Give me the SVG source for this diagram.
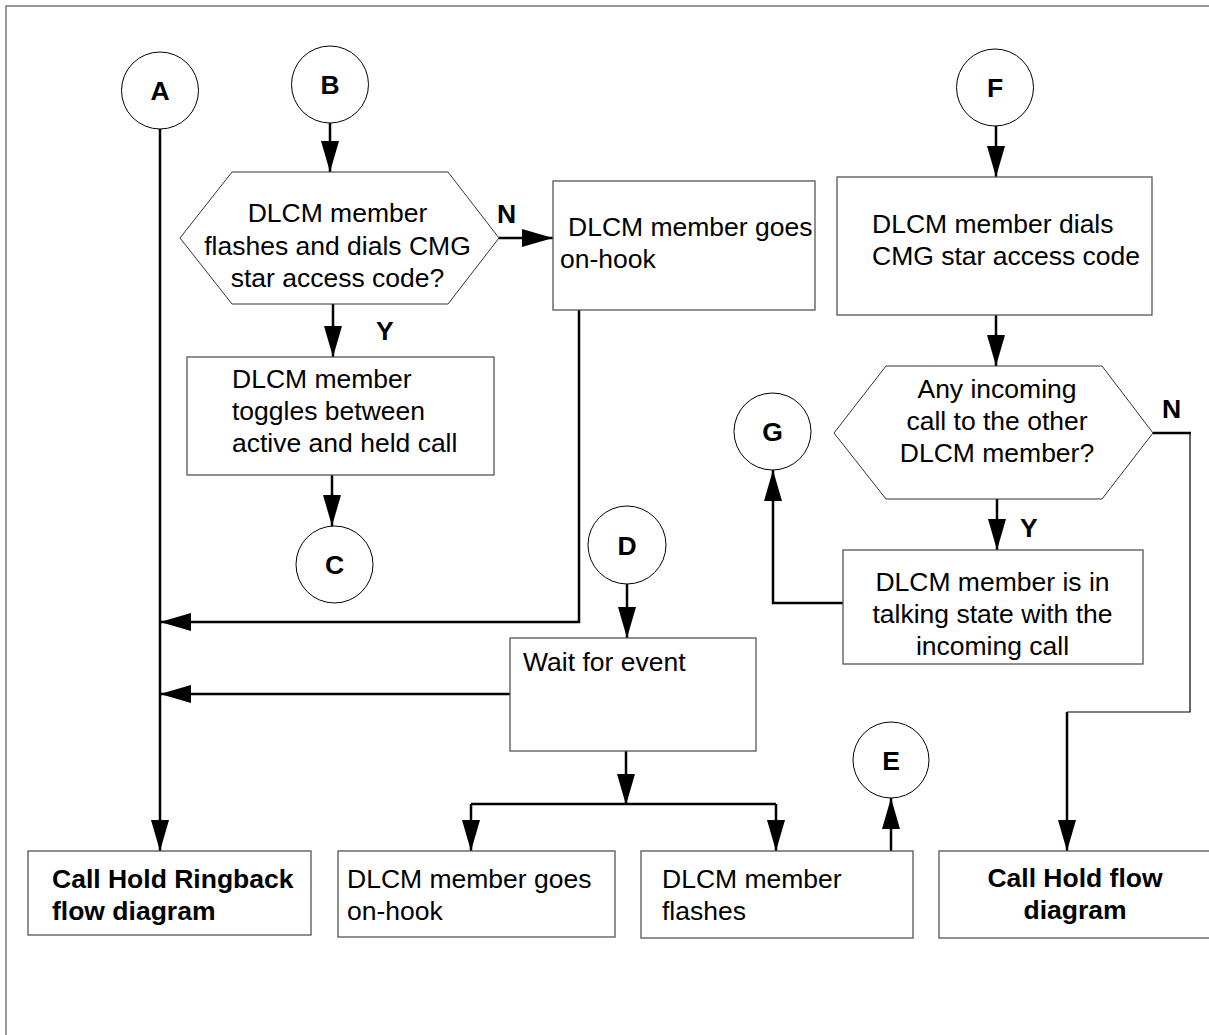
<svg xmlns="http://www.w3.org/2000/svg" width="1209" height="1035" viewBox="0 0 1209 1035">
<style>
text{font-family:"Liberation Sans",Arial,Helvetica,sans-serif;font-size:26.5px;fill:#000}
.b{font-weight:bold}
.c{text-anchor:middle}
.box{fill:#fff;stroke:#555;stroke-width:1.3}
.circ{fill:#fff;stroke:#000;stroke-width:1}
.hex{fill:#fff;stroke:#333;stroke-width:1}
.ln{fill:none;stroke:#000;stroke-width:2.5}
.arr{fill:none;stroke:#000;stroke-width:2.5;marker-end:url(#ah)}
.thin{fill:none;stroke:#000;stroke-width:1.2}
</style>
<defs>
<marker id="ah" markerUnits="userSpaceOnUse" markerWidth="31" markerHeight="18" refX="31" refY="9" orient="auto" viewBox="0 0 31 18">
<path d="M0,0 L31,9 L0,18 z" fill="#000"/>
</marker>
</defs>
<rect width="1209" height="1035" fill="#fff"/>
<path d="M6,1035 L6,6 L1209,6" fill="none" stroke="#777" stroke-width="1.5"/>

<g id="connectors">
<line class="arr" x1="330" y1="123" x2="330" y2="172"/>
<line class="arr" x1="499" y1="238" x2="553" y2="238"/>
<line class="arr" x1="333" y1="304" x2="333" y2="357"/>
<line class="arr" x1="332" y1="475" x2="332" y2="526"/>
<polyline class="arr" points="579,310 579,622 160,622"/>
<line class="arr" x1="160" y1="129" x2="160" y2="851"/>
<line class="arr" x1="510" y1="694" x2="160" y2="694"/>
<line class="arr" x1="627" y1="584" x2="627" y2="638"/>
<line class="arr" x1="626" y1="751" x2="626" y2="805"/>
<polyline class="ln" points="471,804 776,804"/>
<line class="arr" x1="471" y1="804" x2="471" y2="851"/>
<line class="arr" x1="776" y1="804" x2="776" y2="851"/>
<line class="arr" x1="891" y1="851" x2="891" y2="798"/>
<line class="arr" x1="996" y1="126" x2="996" y2="177"/>
<line class="arr" x1="996" y1="315" x2="996" y2="366"/>
<line class="arr" x1="997" y1="499" x2="997" y2="550"/>
<polyline class="arr" points="843,603 773,603 773,470"/>
<line class="ln" x1="1153" y1="433" x2="1191" y2="433"/>
<polyline class="thin" points="1190,433 1190,712 1067,712"/>
<line class="arr" x1="1067" y1="712" x2="1067" y2="851"/>
<text class="b" x="497" y="223">N</text>
<text class="b" x="376" y="340">Y</text>
<text class="b" x="1162" y="418">N</text>
<text class="b" x="1020" y="537">Y</text>
</g>

<g id="nodeA"><circle class="circ" cx="160" cy="90.5" r="38.5"/><text class="b c" x="160" y="100">A</text></g>
<g id="nodeB"><circle class="circ" cx="330" cy="84.5" r="38.5"/><text class="b c" x="330" y="94">B</text></g>
<g id="nodeC"><circle class="circ" cx="334.5" cy="564.5" r="38.5"/><text class="b c" x="334.5" y="574">C</text></g>
<g id="nodeD"><circle class="circ" cx="627" cy="545" r="39"/><text class="b c" x="627" y="554.5">D</text></g>
<g id="nodeE"><circle class="circ" cx="891" cy="760" r="38"/><text class="b c" x="891" y="769.5">E</text></g>
<g id="nodeF"><circle class="circ" cx="995" cy="87.5" r="38.5"/><text class="b c" x="995" y="97">F</text></g>
<g id="nodeG"><circle class="circ" cx="772.5" cy="431.5" r="38.5"/><text class="b c" x="772.5" y="441">G</text></g>

<g id="decision1">
<polygon class="hex" points="232,172 448,172 499,238 448,304 232,304 180,238"/>
<text class="c" x="337.5" y="222">DLCM member</text>
<text class="c" x="337.5" y="255">flashes and dials CMG</text>
<text class="c" x="337.5" y="287">star access code?</text>
</g>

<g id="onhook1">
<rect class="box" x="553" y="181" width="262" height="129"/>
<text x="568" y="236">DLCM member goes</text>
<text x="560" y="268">on-hook</text>
</g>

<g id="toggle">
<rect class="box" x="187" y="357" width="307" height="118"/>
<text x="232" y="388">DLCM member</text>
<text x="232" y="420">toggles between</text>
<text x="232" y="452">active and held call</text>
</g>

<g id="wait">
<rect class="box" x="510" y="638" width="246" height="113"/>
<text x="523" y="671">Wait for event</text>
</g>

<g id="ringback">
<rect class="box" x="28" y="851" width="283" height="84"/>
<text class="b" x="52" y="888">Call Hold Ringback</text>
<text class="b" x="52" y="920">flow diagram</text>
</g>

<g id="onhook2">
<rect class="box" x="338" y="851" width="277" height="86"/>
<text x="347" y="888">DLCM member goes</text>
<text x="347" y="920">on-hook</text>
</g>

<g id="flashes">
<rect class="box" x="641" y="851" width="272" height="87"/>
<text x="662" y="888">DLCM member</text>
<text x="662" y="920">flashes</text>
</g>

<g id="dials">
<rect class="box" x="837" y="177" width="315" height="138"/>
<text x="872" y="233">DLCM member dials</text>
<text x="872" y="265">CMG star access code</text>
</g>

<g id="decision2">
<polygon class="hex" points="886,366 1102,366 1153,433 1102,499 886,499 834,433"/>
<text class="c" x="997" y="398">Any incoming</text>
<text class="c" x="997" y="430">call to the other</text>
<text class="c" x="997" y="462">DLCM member?</text>
</g>

<g id="talking">
<rect class="box" x="843" y="550" width="300" height="114"/>
<text class="c" x="992.5" y="591">DLCM member is in</text>
<text class="c" x="992.5" y="623">talking state with the</text>
<text class="c" x="992.5" y="655">incoming call</text>
</g>

<g id="callhold">
<rect class="box" x="939" y="851" width="290" height="87"/>
<text class="b c" x="1075" y="887">Call Hold flow</text>
<text class="b c" x="1075" y="919">diagram</text>
</g>
</svg>
